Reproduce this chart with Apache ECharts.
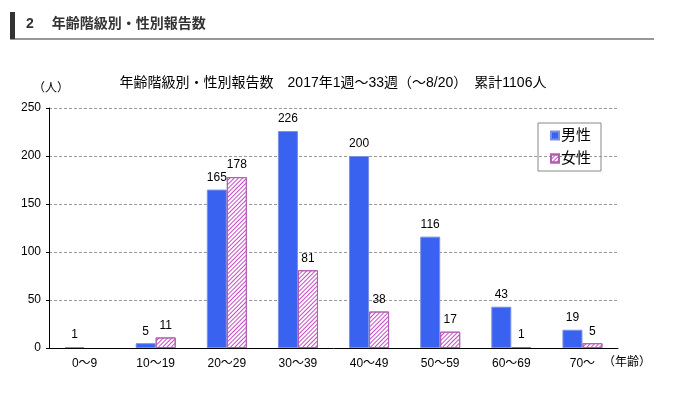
<!DOCTYPE html>
<html>
<head>
<meta charset="utf-8">
<script src="https://cdn.jsdelivr.net/npm/echarts@6/dist/echarts.min.js"></script>
<style>
  html, body { margin: 0; padding: 0; background: #fff; }
  #chart { width: 676px; height: 398px; }
</style>
</head>
<body>
<div id="chart"></div>
<script>
const ageGroups = ["0～9", "10～19", "20～29", "30～39", "40～49", "50～59", "60～69", "70～"];
const maleCounts = [1, 5, 165, 226, 200, 116, 43, 19];
const femaleCounts = [0, 11, 178, 81, 38, 17, 1, 5];

const font = "'Liberation Sans', 'Noto Sans CJK JP', sans-serif";

var chart = echarts.init(document.getElementById("chart"));

var option = {
  animation: false,
  backgroundColor: "#fff",
  textStyle: { fontFamily: font },
  title: {
    text: "年齢階級別・性別報告数　2017年1週～33週（～8/20）　累計1106人",
    left: 328,
    top: 71,
    textAlign: "center",
    textStyle: { fontSize: 14, fontWeight: "normal", color: "#000", fontFamily: font },
  },
  legend: {
    orient: "vertical",
    left: 538,
    top: 123,
    icon: "rect",
    itemWidth: 8,
    itemHeight: 8,
    itemGap: 8,
    padding: [5, 10, 5, 12],
    borderColor: "#888",
    borderWidth: 1,
    textStyle: { fontSize: 15, color: "#000", padding: [0, 0, 0, -3] },
    data: ["男性", "女性"],
  },
  graphic: [
    { type: "rect", shape: { x: 10, y: 12, width: 5, height: 27 }, style: { fill: "#333" } },
    { type: "line", shape: { x1: 10, y1: 39, x2: 654, y2: 39 }, style: { stroke: "#333", lineWidth: 1 } },
    {
      type: "text", left: 26, top: 17,
      style: { text: "2　 年齢階級別・性別報告数", font: "bold 14px " + font, fill: "#333" },
    },
    { type: "text", left: 33, top: 83, style: { text: "（人）", font: "12px " + font, fill: "#000" } },
    { type: "text", left: 603, top: 357, style: { text: "（年齢）", font: "12px " + font, fill: "#000" } },
  ],
  grid: { left: 49, right: 58, top: 108, bottom: 50 },
  xAxis: {
    type: "category",
    data: ageGroups,
    axisLine: { lineStyle: { color: "#000" } },
    axisTick: { inside: true, length: 4, lineStyle: { color: "#000" } },
    axisLabel: { color: "#000", fontSize: 12, margin: 10 },
  },
  yAxis: {
    type: "value",
    min: 0,
    max: 250,
    interval: 50,
    axisLine: { show: true, lineStyle: { color: "#000" } },
    axisTick: { show: true, length: 3, lineStyle: { color: "#000" } },
    axisLabel: { color: "#000", fontSize: 12, margin: 8 },
    splitLine: { lineStyle: { color: "#999", type: [3, 2] } },
  },
  series: [
    {
      name: "男性",
      type: "bar",
      data: maleCounts,
      barWidth: 20,
      barGap: "0%",
      itemStyle: { color: "#3a62f0", borderColor: "#7c8fe0", borderWidth: 1 },
      label: { show: true, position: "top", color: "#000", fontSize: 12, distance: 6 },
    },
    {
      name: "女性",
      type: "bar",
      data: femaleCounts.map(function (v) { return v === 0 ? null : v; }),
      barWidth: 20,
      itemStyle: {
        color: "#fff",
        borderColor: "#b060b0",
        borderWidth: 1,
        decal: {
          symbol: "rect",
          color: "#c84ac8",
          dashArrayX: [1, 0],
          dashArrayY: [1, 2],
          rotation: -Math.PI / 4,
        },
      },
      label: { show: true, position: "top", color: "#000", fontSize: 12, distance: 6 },
    },
  ],
};
chart.setOption(option);
</script>
</body>
</html>
